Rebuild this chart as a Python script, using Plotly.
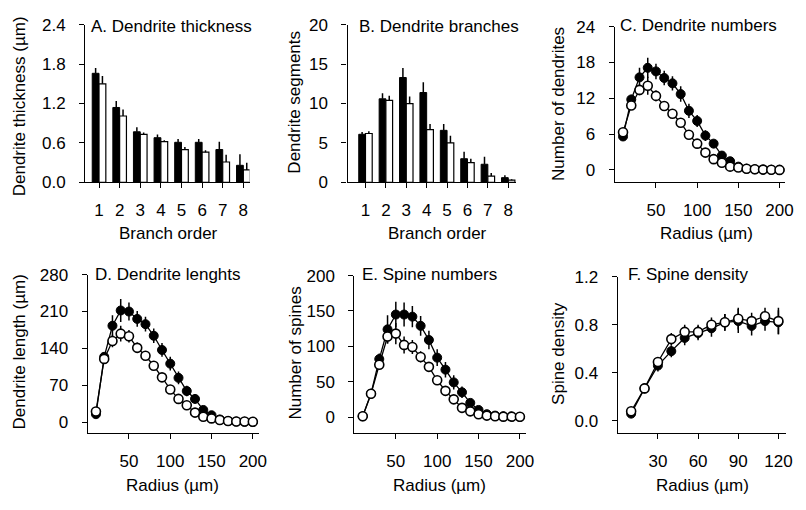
import plotly.graph_objects as go

# the page body has an 8px margin: keep the figure inside the window
OFF = 8
W, H = 806 - 2 * OFF, 510 - 2 * OFF
FONT = "Liberation Sans, Arial, sans-serif"

# ---------------- data ----------------
branch_order = [1, 2, 3, 4, 5, 6, 7, 8]

thick_filled = [1.66, 1.14, 0.77, 0.68, 0.61, 0.61, 0.50, 0.26]
thick_filled_err = [0.08, 0.10, 0.07, 0.05, 0.05, 0.05, 0.12, 0.17]
thick_open = [1.50, 1.01, 0.73, 0.62, 0.50, 0.46, 0.31, 0.19]
thick_open_err = [0.12, 0.10, 0.03, 0.02, 0.04, 0.03, 0.11, 0.11]

seg_filled = [6.1, 10.6, 13.3, 11.4, 6.6, 3.0, 2.3, 0.6]
seg_filled_err = [0.3, 0.7, 1.2, 1.3, 0.8, 0.9, 0.95, 0.3]
seg_open = [6.2, 10.4, 10.0, 6.7, 5.0, 2.5, 0.8, 0.28]
seg_open_err = [0.3, 0.6, 0.9, 0.7, 0.9, 0.5, 0.4, 0.12]

radius = [10, 20, 30, 40, 50, 60, 70, 80, 90, 100,
          110, 120, 130, 140, 150, 160, 170, 180, 190, 200]

dnum_filled = [5.6, 11.8, 15.5, 17.1, 16.5, 15.4, 14.5, 12.7, 9.9, 8.2,
               5.75, 4.4, 2.4, 1.45, 0.55, 0.2, 0.1, 0.05, 0.02, 0.0]
dnum_filled_err = [0.3, 0.8, 1.6, 1.7, 1.3, 1.2, 1.2, 1.3, 1.2, 1.0,
                   0.9, 0.7, 0.5, 0.4, 0.2, 0.1, 0, 0, 0, 0]
dnum_open = [6.3, 10.8, 13.4, 14.1, 12.4, 10.7, 9.4, 7.9, 5.9, 4.4,
             2.9, 1.8, 1.2, 0.55, 0.4, 0.2, 0.1, 0.05, 0.02, 0.0]
dnum_open_err = [0.3, 0.6, 0.9, 1.5, 0.9, 0.7, 0.6, 0.5, 0.5, 0.4,
                 0.3, 0.3, 0.2, 0.1, 0.1, 0.1, 0, 0, 0, 0]

dlen_filled = [15, 124, 183, 212, 210, 196, 186, 164, 137, 111,
               84, 59, 44, 23, 13, 5, 2, 1, 0.5, 0]
dlen_filled_err = [3, 8, 20, 22, 17, 15, 14, 14, 13, 13,
                   12, 10, 8, 5, 3, 1, 0, 0, 0, 0]
dlen_open = [20, 120, 154, 168, 163, 141, 126, 107, 85, 62,
             44, 32, 18, 10, 7, 4, 2, 1, 1, 0.5]
dlen_open_err = [3, 6, 12, 15, 12, 10, 8, 7, 6, 5,
                 4, 3, 2, 2, 1, 1, 0, 0, 0, 0]

spn_filled = [1, 33, 82, 124, 145, 145, 142, 129, 109, 84,
              67, 49, 35, 20, 10, 4, 2, 1, 0.5, 0]
spn_filled_err = [0, 3, 8, 20, 18, 17, 15, 14, 13, 12,
                  11, 10, 8, 5, 3, 1, 0, 0, 0, 0]
spn_open = [1, 33, 74, 114, 118, 102, 99, 85, 71, 52,
            37, 25, 13, 8, 4, 2, 1, 0.5, 0.5, 0.3]
spn_open_err = [0, 3, 6, 10, 15, 12, 10, 8, 7, 6,
                5, 4, 3, 2, 1, 1, 0, 0, 0, 0]

radius_f = [10, 20, 30, 40, 50, 60, 70, 80, 90, 100, 110, 120]
dens_filled = [0.06, 0.27, 0.46, 0.58, 0.69, 0.73, 0.77, 0.82, 0.83, 0.79, 0.83, 0.82]
dens_filled_err = [0.02, 0.04, 0.05, 0.05, 0.06, 0.06, 0.07, 0.07, 0.10, 0.08, 0.08, 0.10]
dens_open = [0.08, 0.27, 0.49, 0.68, 0.74, 0.74, 0.80, 0.82, 0.85, 0.83, 0.87, 0.83]
dens_open_err = [0.02, 0.03, 0.04, 0.05, 0.06, 0.06, 0.06, 0.07, 0.09, 0.07, 0.07, 0.11]

titles = ["A. Dendrite thickness", "B. Dendrite branches", "C. Dendrite numbers",
          "D. Dendrite lenghts", "E. Spine numbers", "F. Spine density"]
y_titles = ["Dendrite thickness (µm)", "Dendrite segments", "Number of dendrites",
            "Dendrite length (µm)", "Number of spines", "Spine density"]
x_titles = ["Branch order", "Branch order", "Radius (µm)",
            "Radius (µm)", "Radius (µm)", "Radius (µm)"]

# ---------------- layout geometry (window pixels) ----------------
boxes = [(86, 252, 16, 180), (351, 521, 16, 180), (621, 793, 18, 180),
         (88.5, 262, 276, 441), (358, 531, 277, 441), (624, 794, 278, 441)]
xranges = [[0.33, 8.3], [0.12, 8.37], [0, 206.7], [0, 208], [0, 207], [0, 125.7]]
yranges = [[0, 2.4], [0, 20], [-2.09, 24], [-21.4, 280], [-23.1, 200], [-0.104, 1.2]]
xtickvals = [branch_order, branch_order, [50, 100, 150, 200], [50, 100, 150, 200],
             [50, 100, 150, 200], [30, 60, 90, 120]]
ytickvals = [[0, 0.6, 1.2, 1.8, 2.4], [0, 5, 10, 15, 20], [0, 6, 12, 18, 24],
             [0, 70, 140, 210, 280], [0, 50, 100, 150, 200], [0, 0.4, 0.8, 1.2]]
yfmt = [".1f", "", "", "", "", ".1f"]
title_pos = [(90, 18), (361, 18), (624, 17), (94, 276), (364, 276), (632, 276)]
ytitle_pos = [(20, 101), (298, 97), (564, 98), (20, 356), (298, 358), (564, 358)]
xtitle_pos = [(170, 233), (442, 233), (714, 233), (174, 495), (444, 495), (710, 495)]


def px(x):
    return (x - OFF) / W


def py(y):
    return 1 - (y - OFF) / H


def ref(i, kind):
    return kind if i == 0 else f"{kind}{i+1}"


fig = go.Figure()

# bar panels
for i, (fv, fe, ov, oe) in enumerate([
        (thick_filled, thick_filled_err, thick_open, thick_open_err),
        (seg_filled, seg_filled_err, seg_open, seg_open_err)]):
    fig.add_trace(go.Bar(x=branch_order, y=fv, xaxis=ref(i, "x"), yaxis=ref(i, "y"),
                         marker=dict(color="black", line=dict(color="black", width=1)),
                         error_y=dict(type="data", symmetric=False, array=fe,
                                      arrayminus=[0] * len(fe), color="black",
                                      thickness=1.5, width=0),
                         offsetgroup="f", showlegend=False))
    fig.add_trace(go.Bar(x=branch_order, y=ov, xaxis=ref(i, "x"), yaxis=ref(i, "y"),
                         marker=dict(color="white", line=dict(color="black", width=1.2)),
                         error_y=dict(type="data", symmetric=False, array=oe,
                                      arrayminus=[0] * len(oe), color="black",
                                      thickness=1.5, width=0),
                         offsetgroup="o", showlegend=False))

# line panels
line_sets = [
    (radius, dnum_filled, dnum_filled_err, dnum_open, dnum_open_err),
    (radius, dlen_filled, dlen_filled_err, dlen_open, dlen_open_err),
    (radius, spn_filled, spn_filled_err, spn_open, spn_open_err),
    (radius_f, dens_filled, dens_filled_err, dens_open, dens_open_err),
]
for k, (xr, fv, fe, ov, oe) in enumerate(line_sets):
    i = k + 2
    fig.add_trace(go.Scatter(x=xr, y=fv, xaxis=ref(i, "x"), yaxis=ref(i, "y"),
                             mode="lines+markers", cliponaxis=False,
                             line=dict(color="black", width=1.3),
                             marker=dict(symbol="circle", size=9, color="black",
                                         line=dict(color="black", width=1)),
                             error_y=dict(type="data", array=fe, color="black",
                                          thickness=1.5, width=0),
                             showlegend=False))
    fig.add_trace(go.Scatter(x=xr, y=ov, xaxis=ref(i, "x"), yaxis=ref(i, "y"),
                             mode="lines+markers", cliponaxis=False,
                             line=dict(color="black", width=1.3),
                             marker=dict(symbol="circle", size=9, color="white",
                                         line=dict(color="black", width=1.6)),
                             error_y=dict(type="data", array=oe, color="black",
                                          thickness=1.5, width=0),
                             showlegend=False))

layout = dict(width=W, height=H, margin=dict(l=0, r=0, t=0, b=0),
              paper_bgcolor="white", plot_bgcolor="white",
              font=dict(family=FONT, size=17, color="black"),
              barmode="group", bargap=0.34, bargroupgap=0.0,
              showlegend=False)

annotations = []
for i in range(6):
    l, r, t, b = boxes[i]
    xa = dict(domain=[px(l), px(r)], range=xranges[i], anchor=ref(i, "y"),
              showline=True, linecolor="black", linewidth=1.2,
              ticks="outside", ticklen=5, tickwidth=1.2, tickcolor="black",
              tickvals=xtickvals[i], showgrid=False, zeroline=False,
              ticklabelstandoff=7, tickfont=dict(size=17, family=FONT))
    ya = dict(domain=[py(b), py(t)], range=yranges[i], anchor=ref(i, "x"),
              showline=True, linecolor="black", linewidth=1.2,
              ticks="outside", ticklen=5, tickwidth=1.2, tickcolor="black",
              tickvals=ytickvals[i], showgrid=False, zeroline=False,
              ticklabelstandoff=10, tickfont=dict(size=17, family=FONT))
    if yfmt[i]:
        ya["tickformat"] = yfmt[i]
    layout[ref(i, "xaxis")] = xa
    layout[ref(i, "yaxis")] = ya

    tx, ty = title_pos[i]
    annotations.append(dict(text=titles[i], x=px(tx), y=py(ty), xref="paper", yref="paper",
                            xanchor="left", yanchor="middle", showarrow=False,
                            font=dict(size=17, family=FONT)))
    yx, yy = ytitle_pos[i]
    annotations.append(dict(text=y_titles[i], x=px(yx), y=py(yy), xref="paper", yref="paper",
                            xanchor="center", yanchor="middle", showarrow=False, textangle=-90,
                            font=dict(size=17, family=FONT)))
    xx, xy = xtitle_pos[i]
    annotations.append(dict(text=x_titles[i], x=px(xx), y=py(xy), xref="paper", yref="paper",
                            xanchor="center", yanchor="middle", showarrow=False,
                            font=dict(size=17, family=FONT)))

layout["annotations"] = annotations
fig.update_layout(**layout)
fig.write_html("out.html")
